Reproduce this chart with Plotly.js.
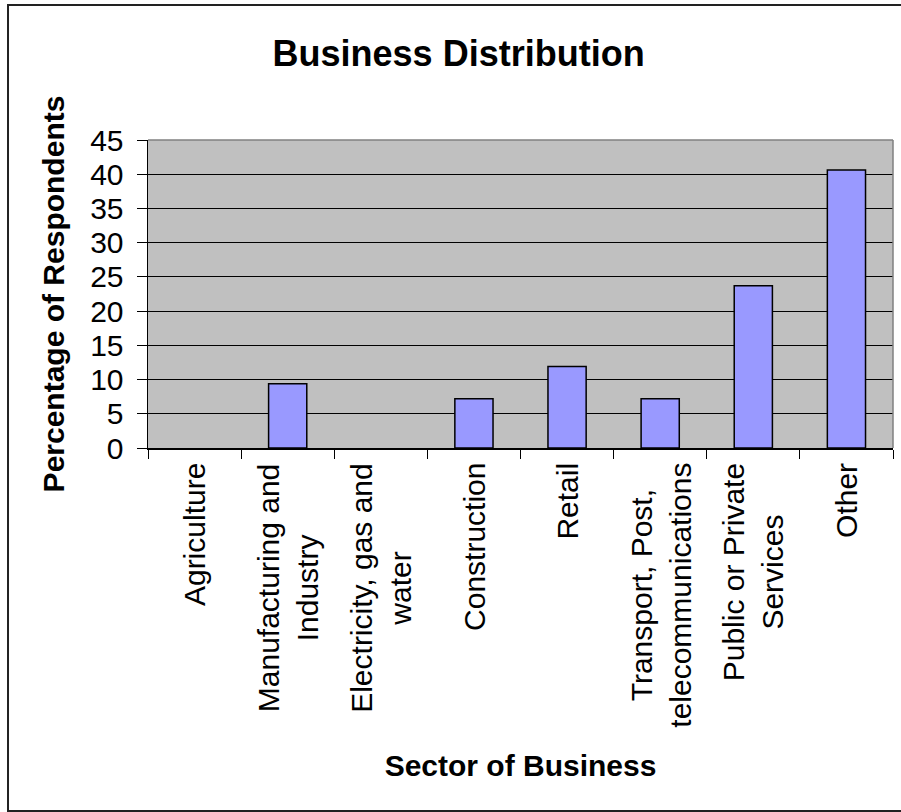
<!DOCTYPE html>
<html>
<head>
<meta charset="utf-8">
<script src="https://cdn.plot.ly/plotly-3.0.1.min.js"></script>
<style>html,body{margin:0;padding:0;background:#fff;}#chart{width:901px;height:812px;}</style>
</head>
<body>
<div id="chart"></div>
<script>
var categories = ["Agriculture", "Manufacturing and Industry", "Electricity, gas and water", "Construction", "Retail", "Transport, Post, telecommunications", "Public or Private Services", "Other"];
var tickLabels = ["Agriculture", "Manufacturing and<br>Industry", "Electricity, gas and<br>water", "Construction", "Retail", "Transport, Post,<br>telecommunications", "Public or Private<br>Services", "Other"];
var percentages = [0, 9.4, 0, 7.2, 11.9, 7.2, 23.7, 40.6];
var yTicks = [0, 5, 10, 15, 20, 25, 30, 35, 40, 45];

var FONT = "Liberation Sans, Arial, sans-serif";

var trace = {
  type: "bar",
  x: categories,
  y: percentages,
  marker: {
    color: "#9999FF",
    line: { color: "#000000", width: percentages.map(function (v) { return v > 0 ? 1.5 : 0; }) }
  },
  hoverinfo: "x+y"
};

var annotations = categories.map(function (c, i) {
  return {
    x: c, xref: "x",
    y: 0, yref: "paper",
    yshift: -13,
    yanchor: "top", xanchor: "center",
    textangle: -90,
    align: "center",
    showarrow: false,
    text: tickLabels[i],
    font: { family: FONT, size: 30, color: "#000" }
  };
});

var layout = {
  width: 901, height: 812,
  margin: { l: 148, r: 8, t: 140, b: 364, pad: 0 },
  paper_bgcolor: "#ffffff",
  plot_bgcolor: "#C0C0C0",
  showlegend: false,
  bargap: 0.59,
  font: { family: FONT, color: "#000" },
  title: {
    text: "<b>Business Distribution</b>",
    font: { family: FONT, size: 36, color: "#000" },
    x: 0.509, xref: "container", xanchor: "center",
    y: 0.934, yref: "container", yanchor: "middle"
  },
  xaxis: {
    type: "category",
    showticklabels: false,
    tickson: "boundaries",
    ticks: "outside", ticklen: 9, tickcolor: "#000", tickwidth: 1,
    showline: true, linecolor: "#000", linewidth: 1.5,
    showgrid: false, zeroline: false,
    fixedrange: true,
    title: {
      text: "<b>Sector of Business</b>",
      font: { family: FONT, size: 30, color: "#000" },
      standoff: 306
    }
  },
  yaxis: {
    range: [0, 45],
    tickvals: yTicks,
    ticktext: yTicks.map(String),
    ticks: "outside", ticklen: 10, tickcolor: "#000", tickwidth: 1,
    ticklabelstandoff: 7,
    tickfont: { family: FONT, size: 30, color: "#000" },
    showline: true, linecolor: "#000", linewidth: 1.5,
    showgrid: true, gridcolor: "#000000", gridwidth: 1,
    zeroline: false,
    fixedrange: true,
    title: {
      text: "<b>Percentage of Respondents</b>",
      font: { family: FONT, size: 30, color: "#000" },
      standoff: 16
    }
  },
  annotations: annotations,
  shapes: [
    { type: "line", xref: "paper", yref: "paper", x0: 0, x1: 1, y0: 1, y1: 1,
      line: { color: "#808080", width: 1.5 } },
    { type: "line", xref: "paper", yref: "paper", x0: 1, x1: 1, y0: 0, y1: 1,
      line: { color: "#808080", width: 1.5 } },
    { type: "rect", xref: "paper", yref: "paper",
      x0: -0.1879, x1: 1.2, y0: -1.1786, y1: 1.4383,
      line: { color: "#222", width: 2 }, fillcolor: "rgba(0,0,0,0)" }
  ]
};

Plotly.newPlot("chart", [trace], layout, { displayModeBar: false, staticPlot: true });
</script>
</body>
</html>
